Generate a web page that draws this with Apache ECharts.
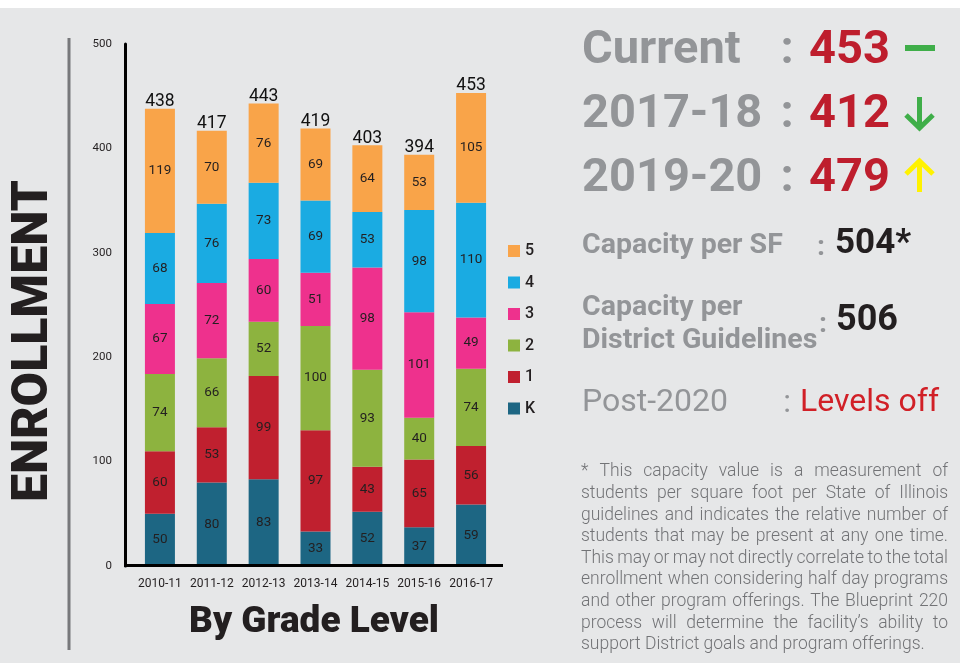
<!DOCTYPE html>
<html>
<head>
<meta charset="utf-8">
<script src="https://cdn.jsdelivr.net/npm/echarts@6/dist/echarts.min.js"></script>
<style>
  html, body { margin: 0; padding: 0; background: #fff; }
  #chart { width: 960px; height: 663px; }
</style>
</head>
<body>
<div id="chart"></div>
<script>
// school years on the x axis
const years = ['2010-11', '2011-12', '2012-13', '2013-14', '2014-15', '2015-16', '2016-17'];

// enrollment per grade (bottom to top of each stack)
const gradeK = [50, 80, 83, 33, 52, 37, 59];
const grade1 = [60, 53, 99, 97, 43, 65, 56];
const grade2 = [74, 66, 52, 100, 93, 40, 74];
const grade3 = [67, 72, 60, 51, 98, 101, 49];
const grade4 = [68, 76, 73, 69, 53, 98, 110];
const grade5 = [119, 70, 76, 69, 64, 53, 105];
const totals = [438, 417, 443, 419, 403, 394, 453];

const gradeNames = ['K', '1', '2', '3', '4', '5'];
const gradeColors = ['#1d6683', '#c0202f', '#8db33f', '#ee318d', '#1aabe2', '#f9a449'];
const legendOrder = ['5', '4', '3', '2', '1', 'K'];

// right hand side figures
const outlookLabels = ['Current', '2017-18', '2019-20'];
const outlookValues = ['453', '412', '479'];
const capacitySF = '504*';
const capacityDistrict = '506';
const post2020 = 'Levels off';

const footnoteLines = [
  '* This capacity value is a measurement of',
  'students per square foot per State of Illinois',
  'guidelines and indicates the relative number of',
  'students that may be present at any one time.',
  'This may or may not directly correlate to the total',
  'enrollment when considering half day programs',
  'and other program offerings.  The Blueprint 220',
  'process will determine the facility\u2019s ability to',
  'support District goals and program offerings.'
];

const chart = echarts.init(document.getElementById('chart'));

const gray = '#939598';
const red = '#be1e2d';
const ink = '#231f20';

// justified footnote: place each word so the line fills the column
const noteFont = '300 17.5px Roboto';
const noteLeft = 581, noteRight = 948, noteTop = 472, noteStep = 21.6;
const measure = document.createElement('canvas').getContext('2d');
measure.font = noteFont;
const noteWords = [];
footnoteLines.forEach((line, i) => {
  const words = line.split(/\s+/);
  const widths = words.map(w => measure.measureText(w).width);
  const sum = widths.reduce((a, b) => a + b, 0);
  const last = i === footnoteLines.length - 1;
  const gap = last ? measure.measureText(' ').width : (noteRight - noteLeft - sum) / (words.length - 1);
  let x = noteLeft;
  words.forEach((w, j) => {
    noteWords.push({
      type: 'text', silent: true,
      style: { text: w, x: x, y: noteTop + i * noteStep, font: noteFont, fill: '#727376', verticalAlign: 'middle' }
    });
    x += widths[j] + gap;
  });
});

const bigFont = 'bold 47px Roboto';
const midFont = 'bold 28.5px Roboto';
const graphics = [
  { type: 'rect', silent: true, shape: { x: 0, y: 0, width: 960, height: 8 }, style: { fill: '#ffffff' } },
  { type: 'line', silent: true, shape: { x1: 69, y1: 38, x2: 69, y2: 650 }, style: { stroke: '#77787b', lineWidth: 3 } },
  { type: 'line', silent: true, z: 10, shape: { x1: 124, y1: 565.5, x2: 503, y2: 565.5 }, style: { stroke: '#000', lineWidth: 3 } },
  {
    type: 'text', silent: true, x: 34, y: 341, rotation: Math.PI / 2,
    style: { text: 'ENROLLMENT', font: '900 50px Roboto', fill: ink, align: 'center', verticalAlign: 'middle' }
  },
  {
    type: 'text', silent: true,
    style: { text: 'By Grade Level', x: 314, y: 623, font: '900 37px Roboto', fill: ink, align: 'center', verticalAlign: 'middle' }
  },
  // green dash
  { type: 'rect', silent: true, shape: { x: 905, y: 45, width: 30, height: 6 }, style: { fill: '#3fae49' } },
  // down arrow
  { type: 'polyline', silent: true, shape: { points: [[919.5, 97], [919.5, 127]] }, style: { stroke: '#3fae49', lineWidth: 5 } },
  { type: 'polyline', silent: true, shape: { points: [[906, 115], [919.5, 128], [933, 115]] }, style: { stroke: '#3fae49', lineWidth: 5, fill: null } },
  // up arrow
  { type: 'polyline', silent: true, shape: { points: [[919.5, 162], [919.5, 192]] }, style: { stroke: '#fff200', lineWidth: 5 } },
  { type: 'polyline', silent: true, shape: { points: [[906, 174], [919.5, 161], [933, 174]] }, style: { stroke: '#fff200', lineWidth: 5, fill: null } },
  // capacity rows
  { type: 'text', silent: true, style: { text: 'Capacity per SF', x: 582, y: 246, font: midFont, fill: gray, verticalAlign: 'middle' } },
  { type: 'text', silent: true, style: { text: ':', x: 821, y: 248, font: midFont, fill: gray, align: 'center', verticalAlign: 'middle' } },
  { type: 'text', silent: true, style: { text: capacitySF, x: 835, y: 244, font: 'bold 35px Roboto', fill: ink, verticalAlign: 'middle' } },
  { type: 'text', silent: true, style: { text: 'Capacity per', x: 582, y: 308, font: midFont, fill: gray, verticalAlign: 'middle' } },
  { type: 'text', silent: true, style: { text: 'District Guidelines', x: 582, y: 341, font: midFont, fill: gray, verticalAlign: 'middle' } },
  { type: 'text', silent: true, style: { text: ':', x: 823, y: 325, font: midFont, fill: gray, align: 'center', verticalAlign: 'middle' } },
  { type: 'text', silent: true, style: { text: capacityDistrict, x: 836, y: 321, font: 'bold 36px Roboto', fill: ink, verticalAlign: 'middle' } },
  { type: 'text', silent: true, style: { text: 'Post-2020', x: 582, y: 403, font: '32px Roboto', fill: gray, verticalAlign: 'middle' } },
  { type: 'text', silent: true, style: { text: ':', x: 787, y: 404, font: '32px Roboto', fill: gray, align: 'center', verticalAlign: 'middle' } },
  { type: 'text', silent: true, style: { text: post2020, x: 800, y: 403, font: '32px Roboto', fill: '#d12027', verticalAlign: 'middle' } }
];

outlookLabels.forEach((label, i) => {
  const y = 51 + i * 64;
  graphics.push(
    { type: 'text', silent: true, style: { text: label, x: 582, y: y, font: bigFont, fill: gray, verticalAlign: 'middle' } },
    { type: 'text', silent: true, style: { text: ':', x: 787, y: y, font: bigFont, fill: gray, align: 'center', verticalAlign: 'middle' } },
    { type: 'text', silent: true, style: { text: outlookValues[i], x: 809, y: y, font: bigFont, fill: red, verticalAlign: 'middle' } }
  );
});

const gradeData = [gradeK, grade1, grade2, grade3, grade4, grade5];
const barSeries = gradeNames.map((name, i) => ({
  name: name,
  type: 'bar',
  stack: 'enroll',
  barWidth: 30,
  data: gradeData[i],
  itemStyle: { color: gradeColors[i] },
  label: { show: true, position: 'inside', color: ink, fontSize: 13.5, fontFamily: 'Roboto' },
  emphasis: { disabled: true }
}));

const option = {
  backgroundColor: '#e6e7e8',
  animation: false,
  grid: { left: 134, width: 363, top: 44, bottom: 97 },
  legend: {
    data: legendOrder,
    orient: 'vertical',
    left: 503, top: 238,
    icon: 'rect', itemWidth: 12, itemHeight: 12, itemGap: 15.5,
    textStyle: { color: ink, fontSize: 16, fontWeight: 500, fontFamily: 'Roboto' },
    selectedMode: false
  },
  xAxis: {
    type: 'category',
    data: years,
    axisLine: { show: false },
    axisTick: { show: false },
    axisLabel: { color: ink, fontSize: 12, fontFamily: 'Roboto', margin: 12, interval: 0 }
  },
  yAxis: {
    type: 'value',
    min: 0, max: 500, interval: 100,
    offset: 9,
    splitLine: { show: false },
    axisTick: { show: false },
    axisLine: { show: true, lineStyle: { color: '#000', width: 3 } },
    axisLabel: { color: ink, fontSize: 11.5, fontFamily: 'Roboto', margin: 13 }
  },
  series: barSeries.concat([{
    name: 'total',
    type: 'scatter',
    data: totals,
    symbolSize: 0,
    silent: true,
    z: 5,
    itemStyle: { opacity: 1 },
    label: { show: true, position: 'top', distance: -2, color: '#111', fontSize: 17.5, fontFamily: 'Roboto', formatter: p => p.value }
  }]),
  graphic: graphics.concat(noteWords)
};

chart.setOption(option);
</script>
</body>
</html>
